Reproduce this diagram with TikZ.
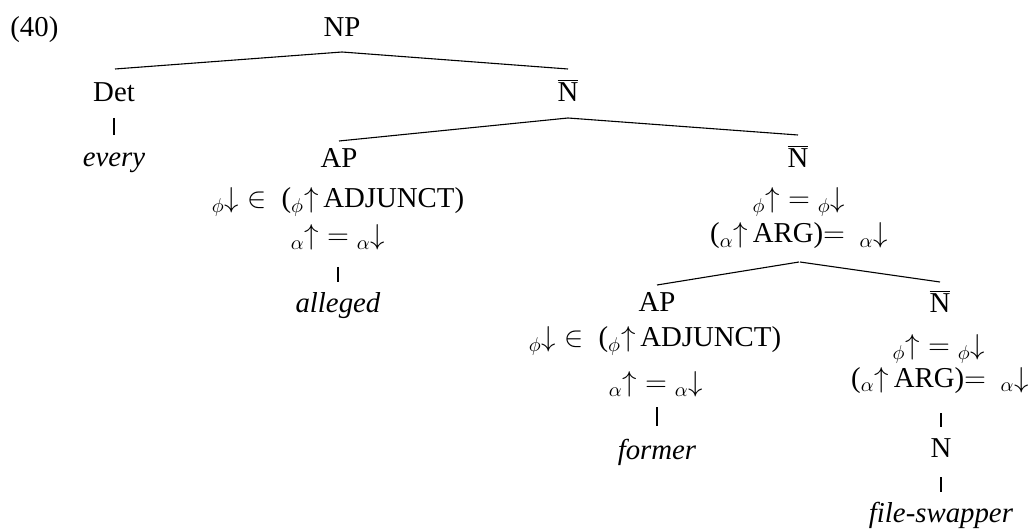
\documentclass[tikz,border=0pt]{standalone}
\usepackage{fontspec}
\setmainfont{Liberation Serif}
\usetikzlibrary{calc}
\newcommand{\Nbar}{$\overline{\mbox{N}}$}
\newcommand{\adjrow}{${}_{\phi}{\downarrow}\in{}$\ (${}_{\phi}{\uparrow}$\,ADJUNCT)}
\newcommand{\aeqrow}{${}_{\alpha}{\uparrow}={}_{\alpha}{\downarrow}$}
\newcommand{\feqrow}{${}_{\phi}{\uparrow}={}_{\phi}{\downarrow}$}
\newcommand{\argrow}{(${}_{\alpha}{\uparrow}$\,ARG)$=$\ \ ${}_{\alpha}{\downarrow}$}
\begin{document}
\begin{tikzpicture}[x=0.5pt,y=-0.5pt,
  every node/.style={inner sep=0pt, anchor=base, font=\fontsize{14.4}{17}\selectfont},
  edge/.style={line width=0.55pt, black}]
\useasboundingbox (0,0) rectangle (1034,529);
% nodes
\node[anchor=base west] (ex) at (10,37) {(40)};
\node (np) at (342,37) {NP};
\node (det) at (114,102) {Det};
\node (nb1) at (568,102) {\Nbar};
\node (every) at (114,167) {\textit{every}};
\node (ap1) at (339,168) {AP};
\node (ap1a) at (338,208) {\adjrow};
\node (ap1b) at (338,245) {\aeqrow};
\node (alleged) at (338,313) {\textit{alleged}};
\node (nb2) at (798,168) {\Nbar};
\node (nb2a) at (799,208) {\feqrow};
\node (nb2b) at (799,243) {\argrow};
\node (ap2) at (657,312) {AP};
\node (ap2a) at (655,347) {\adjrow};
\node (ap2b) at (656,392) {\aeqrow};
\node (former) at (657,459) {\textit{former}};
\node (nb3) at (940,313) {\Nbar};
\node (nb3a) at (939,355) {\feqrow};
\node (nb3b) at (940,387) {\argrow};
\node (n) at (941,457) {N};
\node (fs) at (941,522) {\textit{file-swapper}};
% connectors
\draw[edge] ($(np.base)+(0,15)$) -- ($(det.base)+(1,-33)$);
\draw[edge] ($(np.base)+(0,15)$) -- ($(nb1.base)+(0,-33)$);
\draw[edge] ($(det.base)+(0,16)$) -- ($(every.base)+(0,-32)$);
\draw[edge] ($(nb1.base)+(0,16)$) -- ($(ap1.base)+(0,-27)$);
\draw[edge] ($(nb1.base)+(0,16)$) -- ($(nb2.base)+(0,-33)$);
\draw[edge] ($(ap1b.base)+(0,22)$) -- ($(alleged.base)+(0,-31)$);
\draw[edge] ($(nb2b.base)+(0,19)$) -- ($(ap2.base)+(0,-27)$);
\draw[edge] ($(nb2b.base)+(1,19)$) -- ($(nb3.base)+(0,-31)$);
\draw[edge] ($(ap2b.base)+(1,15)$) -- ($(former.base)+(0,-33)$);
\draw[edge] ($(nb3b.base)+(1,26)$) -- ($(n.base)+(0,-30)$);
\draw[edge] ($(n.base)+(0,20)$) -- ($(fs.base)+(0,-30)$);
\end{tikzpicture}
\end{document}
